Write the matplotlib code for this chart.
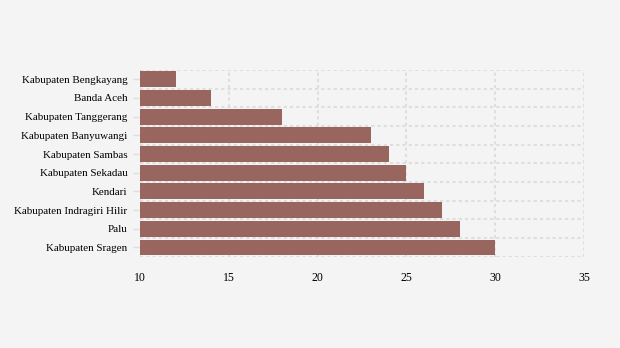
import matplotlib.pyplot as plt
import numpy as np

regions = ["Kabupaten Bengkayang", "Banda Aceh", "Kabupaten Tanggerang",
           "Kabupaten Banyuwangi", "Kabupaten Sambas", "Kabupaten Sekadau",
           "Kendari", "Kabupaten Indragiri Hilir", "Palu", "Kabupaten Sragen"]
values = [12, 14, 18, 23, 24, 25, 26, 27, 28, 30]
xticks = [10, 15, 20, 25, 30, 35]

plt.rcParams['font.family'] = ['Liberation Serif', 'DejaVu Serif']

fig = plt.figure(figsize=(6.2, 3.48), dpi=100, facecolor='#f4f4f4')
ax = fig.add_axes([0.2258, 0.262, 0.7162, 0.537])
ax.set_facecolor('#f4f4f4')

pos = np.arange(len(regions))
base = xticks[0]
ax.barh(pos, [v - base for v in values], left=base, height=0.85,
        color='#98665e', zorder=2)

ax.set_xlim(xticks[0], xticks[-1])
ax.set_ylim(len(regions) - 0.5, -0.5)
ax.set_yticks(pos)
ax.set_yticklabels(regions)
ax.set_yticks(np.arange(len(regions) + 1) - 0.5, minor=True)
ax.set_xticks(xticks)

ax.grid(True, axis='x', which='major', color='#dedede', linestyle=(0, (1.5, 1.5)), linewidth=1.5, zorder=1)
ax.grid(True, axis='y', which='minor', color='#dedede', linestyle=(0, (1.5, 1.5)), linewidth=1.5, zorder=1)
ax.tick_params(axis='y', which='minor', length=0)
ax.tick_params(axis='y', which='major', length=5, width=1, color='#dedede', labelsize=7.9, pad=4)
ax.tick_params(axis='x', length=0, labelsize=8.5, pad=11)
for s in ax.spines.values():
    s.set_visible(False)

fig.savefig('out.png', dpi=100, facecolor=fig.get_facecolor())
